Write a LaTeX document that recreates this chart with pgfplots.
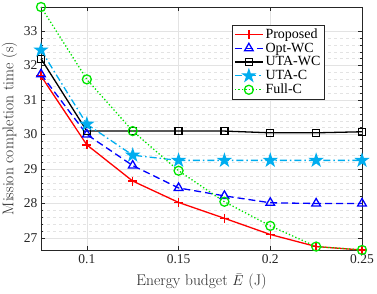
\documentclass[border=0pt]{standalone}
\usepackage{fontspec}
\newfontfamily\timesf{Liberation Serif}
\usepackage{pgfplots}
\pgfplotsset{compat=1.18}
\definecolor{mgreen}{rgb}{0,0.9,0}
\definecolor{axgray}{rgb}{0.15,0.15,0.15}
\pgfdeclareplotmark{pentagram}{%
  \pgfpathmoveto{\pgfpointpolar{90}{\pgfplotmarksize}}%
  \pgfpathlineto{\pgfpointpolar{126}{0.382\pgfplotmarksize}}%
  \pgfpathlineto{\pgfpointpolar{162}{\pgfplotmarksize}}%
  \pgfpathlineto{\pgfpointpolar{198}{0.382\pgfplotmarksize}}%
  \pgfpathlineto{\pgfpointpolar{234}{\pgfplotmarksize}}%
  \pgfpathlineto{\pgfpointpolar{270}{0.382\pgfplotmarksize}}%
  \pgfpathlineto{\pgfpointpolar{306}{\pgfplotmarksize}}%
  \pgfpathlineto{\pgfpointpolar{342}{0.382\pgfplotmarksize}}%
  \pgfpathlineto{\pgfpointpolar{18}{\pgfplotmarksize}}%
  \pgfpathlineto{\pgfpointpolar{54}{0.382\pgfplotmarksize}}%
  \pgfpathclose
  \pgfusepathqfillstroke}
\begin{document}
\begin{tikzpicture}
\useasboundingbox (-41bp,-44bp) rectangle (336bp,250bp);
\begin{axis}[
  scale only axis,
  width=321bp, height=243bp,
  xmin=0.075, xmax=0.25,
  ymin=26.65, ymax=33.7,
  xtick={0.1,0.15,0.2,0.25},
  xticklabels={0.1,0.15,0.2,0.25},
  ytick={27,28,29,30,31,32,33},
  minor y tick num=4,
  tick align=inside,
  xtick pos=both, ytick pos=both,
  major tick length=4bp, minor tick length=2bp,
  grid=both,
  major grid style={gray!22, line width=0.5bp},
  minor grid style={gray!22, dashed, line width=0.4bp},
  axis line style={axgray, line width=0.6bp},
  every tick/.style={axgray, line width=0.5bp},
  tick label style={font=\timesf\fontsize{13.5bp}{15bp}\selectfont, /pgf/number format/assume math mode=true, text=axgray},
  xticklabel style={yshift=-1bp},
  label style={font=\fontsize{15.5bp}{18bp}\selectfont, text=axgray},
  xlabel={Energy budget $\bar{E}$ (J)},
  xlabel style={yshift=-3.5bp},
  ylabel={Mission completion time (s)},
  clip=false,
  legend cell align=left,
  legend style={at={(0.882,0.926)}, anchor=north east, font=\timesf\fontsize{14bp}{15.5bp}\selectfont, draw=axgray, line width=0.5bp, inner sep=1.5bp, row sep=-1bp},
  legend image code/.code={\draw[mark repeat=2,mark phase=2] plot coordinates {(0bp,0bp) (14bp,0bp) (28bp,0bp)};},
  every axis plot/.append style={line width=1.3bp},
]
\addplot[red, mark=+, mark size=4.5bp] coordinates {
(0.075,31.7) (0.1,29.7) (0.125,28.65) (0.15,28.03) (0.175,27.57) (0.2,27.1) (0.225,26.75) (0.25,26.65)};
\addlegendentry{Proposed}
\addplot[blue, dash pattern=on 7bp off 4bp, mark=triangle, mark size=5bp, mark options={solid}] coordinates {
(0.075,31.75) (0.1,30.0) (0.125,29.1) (0.15,28.45) (0.175,28.22) (0.2,28.02) (0.225,28.0) (0.25,28.0)};
\addlegendentry{Opt-WC}
\addplot[black, mark=square, mark size=3.5bp] coordinates {
(0.075,32.2) (0.1,30.1) (0.125,30.1) (0.15,30.1) (0.175,30.1) (0.2,30.05) (0.225,30.05) (0.25,30.08)};
\addlegendentry{UTA-WC}
\addplot[cyan, dash pattern=on 7bp off 3bp on 1.5bp off 3bp, mark=pentagram, mark size=6bp, mark options={solid, fill=cyan}] coordinates {
(0.075,32.45) (0.1,30.3) (0.125,29.4) (0.15,29.25) (0.175,29.25) (0.2,29.25) (0.225,29.25) (0.25,29.25)};
\addlegendentry{UTA-C}
\addplot[mgreen, dash pattern=on 1.3bp off 2.2bp, mark=o, mark size=4.5bp, mark options={solid}] coordinates {
(0.075,33.7) (0.1,31.6) (0.125,30.1) (0.15,28.95) (0.175,28.05) (0.2,27.35) (0.225,26.75) (0.25,26.65)};
\addlegendentry{Full-C}
\end{axis}
\end{tikzpicture}
\end{document}
